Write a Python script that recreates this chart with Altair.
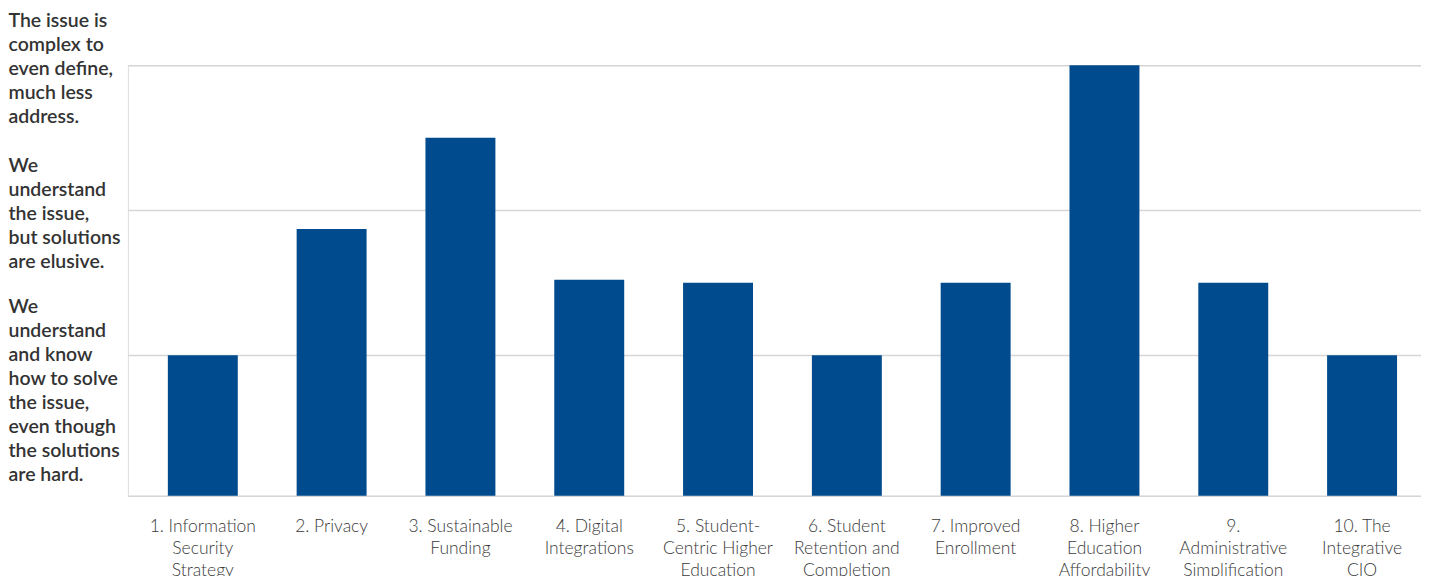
import json
import altair as alt
import pandas as pd

categories = [
    "1. Information\nSecurity\nStrategy",
    "2. Privacy",
    "3. Sustainable\nFunding",
    "4. Digital\nIntegrations",
    "5. Student-\nCentric Higher\nEducation",
    "6. Student\nRetention and\nCompletion",
    "7. Improved\nEnrollment",
    "8. Higher\nEducation\nAffordability",
    "9.\nAdministrative\nSimplification",
    "10. The\nIntegrative\nCIO",
]
values = [1.0, 1.87, 2.5, 1.52, 1.5, 1.0, 1.5, 3.0, 1.5, 1.0]

level_values = [1, 2, 3]
level_labels = [
    ["We", "understand", "and know", "how to solve", "the issue,", "even though", "the solutions", "are hard."],
    ["We", "understand", "the issue,", "but solutions", "are elusive."],
    ["The issue is", "complex to", "even define,", "much less", "address."],
]

df = pd.DataFrame({"cat": categories, "val": values})

y_expr = " : ".join(
    f"datum.value == {v} ? {json.dumps(lines)}" for v, lines in zip(level_values, level_labels)
) + " : ''"

FONT = "Lato"

chart = (
    alt.Chart(df)
    .mark_bar(color="#004B8D")
    .encode(
        x=alt.X(
            "cat:N",
            sort=None,
            title=None,
            scale=alt.Scale(paddingInner=0.457, paddingOuter=0.248, align=0.625),
            axis=alt.Axis(
                labelAngle=0,
                labelExpr="split(datum.label, '\\n')",
                labelFont=FONT,
                labelFontSize=17.5,
                labelFontWeight=300,
                labelColor="#3a3a3a",
                labelLineHeight=22,
                labelPadding=22,
                labelLimit=200,
                ticks=False,
                domain=True,
                domainColor="#d6d6d6",
                domainWidth=1.5,
                grid=False,
            ),
        ),
        y=alt.Y(
            "val:Q",
            title=None,
            scale=alt.Scale(domain=[0.03, 3], clamp=True, zero=False, nice=False),
            axis=alt.Axis(
                values=level_values,
                labelExpr=y_expr,
                labelFont=FONT,
                labelFontSize=19.5,
                labelFontWeight=600,
                labelColor="#333333",
                labelAlign="left",
                labelBaseline="middle",
                labelLineHeight=24,
                labelPadding=120,
                labelLimit=200,
                labelOffset=alt.condition("datum.value == 1", alt.value(-49), alt.value(-45)),
                ticks=False,
                tickSize=0,
                domain=False,
                grid=True,
                gridColor="#d6d6d6",
                gridWidth=1.5,
            ),
        ),
    )
    .properties(width=1294, height=431)
    .configure_view(stroke=None)
    .configure(padding={"top": 2, "left": 0, "right": 0, "bottom": 0})
)

chart.save("out.html", embed_options={"renderer": "svg", "actions": False})
